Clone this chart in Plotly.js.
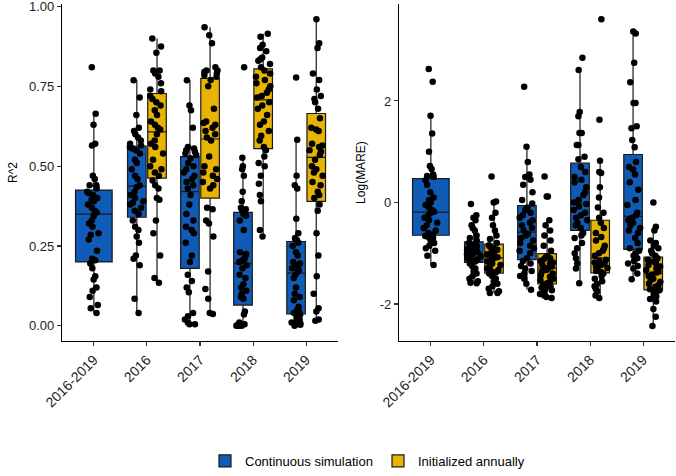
<!DOCTYPE html>
<html>
<head>
<meta charset="utf-8">
<script src="https://cdn.plot.ly/plotly-3.0.1.min.js"></script>
<style>html,body{margin:0;padding:0;background:#fff;} #chart{width:676px;height:476px;}</style>
</head>
<body>
<div id="chart"></div>
<script>
// ---------- DATA ----------
const categories = ["2016-2019", "2016", "2017", "2018", "2019"];
const years = ["2016", "2017", "2018", "2019"];
const seriesNames = ["Continuous simulation", "Initialized annually"];

// R^2 — continuous simulation
const r2ContAll = [0.81,0.664,0.63,0.57,0.565,0.47,0.46,0.44,0.44,0.43, 0.42,0.415,0.41,0.40,0.395,0.39,0.38,0.37,0.36,0.355, 0.345,0.33,0.32,0.31,0.29,0.285,0.27,0.235,0.21,0.205, 0.195,0.18,0.155,0.145,0.12,0.11,0.09,0.065,0.055,0.04];
const r2Cont2016 = [0.769,0.715,0.66,0.62,0.61,0.60,0.59,0.58,0.57,0.565, 0.56,0.555,0.55,0.54,0.52,0.51,0.49,0.47,0.46,0.44, 0.435,0.42,0.41,0.40,0.39,0.385,0.38,0.37,0.36,0.35, 0.33,0.31,0.30,0.28,0.26,0.22,0.21,0.19,0.085,0.04];
const r2Cont2017 = [0.769,0.69,0.675,0.62,0.56,0.555,0.55,0.545,0.54,0.535, 0.525,0.51,0.50,0.49,0.48,0.47,0.46,0.45,0.44,0.43, 0.41,0.38,0.35,0.33,0.31,0.30,0.29,0.26,0.22,0.20, 0.16,0.14,0.12,0.105,0.04,0.03,0.02,0.01,0.005,0.005];
const r2Cont2018 = [0.81,0.526,0.50,0.49,0.47,0.42,0.39,0.37,0.365,0.36, 0.35,0.345,0.33,0.30,0.23,0.225,0.22,0.21,0.205,0.20, 0.19,0.18,0.16,0.15,0.13,0.12,0.11,0.10,0.09,0.085, 0.045,0.035,0.01,0.005,0.003,0.002,0.001,0.0,0.0,0.0];
const r2Cont2019 = [0.778,0.583,0.47,0.44,0.43,0.335,0.29,0.275,0.27,0.268, 0.26,0.25,0.23,0.22,0.20,0.195,0.19,0.18,0.175,0.17, 0.16,0.15,0.12,0.10,0.09,0.08,0.06,0.05,0.045,0.04, 0.035,0.03,0.025,0.02,0.015,0.01,0.008,0.005,0.003,0.0];
// R^2 — initialized annually
const r2Init2016 = [0.90,0.875,0.855,0.80,0.80,0.79,0.78,0.76,0.74,0.735, 0.72,0.71,0.70,0.69,0.675,0.66,0.64,0.63,0.62,0.615, 0.60,0.58,0.57,0.56,0.54,0.52,0.50,0.49,0.48,0.47, 0.455,0.44,0.43,0.40,0.395,0.33,0.29,0.22,0.15,0.135];
const r2Init2017 = [0.935,0.91,0.885,0.81,0.80,0.80,0.795,0.79,0.785,0.78, 0.77,0.75,0.68,0.64,0.635,0.63,0.62,0.61,0.60,0.59, 0.58,0.53,0.50,0.49,0.48,0.47,0.46,0.45,0.44,0.43, 0.37,0.365,0.33,0.32,0.28,0.17,0.115,0.085,0.04,0.037];
const r2Init2018 = [0.915,0.905,0.88,0.87,0.86,0.84,0.835,0.83,0.82,0.81, 0.80,0.79,0.78,0.77,0.76,0.75,0.74,0.73,0.72,0.715, 0.70,0.69,0.68,0.66,0.64,0.63,0.61,0.595,0.58,0.56, 0.55,0.53,0.51,0.50,0.47,0.445,0.41,0.39,0.30,0.28];
const r2Init2019 = [0.96,0.885,0.87,0.79,0.77,0.74,0.72,0.71,0.70,0.68, 0.65,0.62,0.615,0.61,0.57,0.565,0.56,0.55,0.545,0.535, 0.52,0.50,0.49,0.48,0.47,0.45,0.44,0.42,0.41,0.40, 0.38,0.36,0.29,0.22,0.155,0.10,0.055,0.045,0.02,0.016];

// Log(MARE) — continuous simulation
const mareContAll = [2.63,2.38,1.71,1.36,1.0,0.72,0.66,0.55,0.52,0.50, 0.44,0.35,0.2,0.1,0.05,0.0,-0.05,-0.1,-0.15,-0.18, -0.2,-0.25,-0.3,-0.35,-0.4,-0.45,-0.5,-0.55,-0.6,-0.63, -0.66,-0.68,-0.7,-0.75,-0.8,-0.85,-0.9,-0.95,-1.05,-1.23];
const mareCont2016 = [-0.03,-0.25,-0.3,-0.35,-0.45,-0.5,-0.55,-0.65,-0.7,-0.75, -0.8,-0.82,-0.84,-0.86,-0.88,-0.9,-0.92,-0.94,-0.96,-0.97, -0.99,-1.0,-1.02,-1.04,-1.06,-1.08,-1.1,-1.12,-1.14,-1.16, -1.2,-1.25,-1.3,-1.35,-1.4,-1.45,-1.5,-1.55,-1.58,-1.59];
const mareCont2017 = [2.28,1.10,0.8,0.55,0.5,0.45,0.35,0.2,0.05,-0.02, -0.1,-0.15,-0.2,-0.25,-0.3,-0.35,-0.4,-0.45,-0.5,-0.55, -0.62,-0.65,-0.7,-0.75,-0.8,-0.85,-0.9,-0.95,-1.0,-1.1, -1.15,-1.2,-1.25,-1.3,-1.35,-1.4,-1.45,-1.5,-1.6,-1.72];
const mareCont2018 = [2.85,2.61,1.78,1.7,1.37,1.37,1.13,1.13,0.9,0.85, 0.7,0.6,0.5,0.45,0.4,0.3,0.2,0.15,0.05,0.0, -0.03,-0.08,-0.15,-0.2,-0.25,-0.3,-0.35,-0.4,-0.45,-0.5, -0.6,-0.65,-0.7,-0.8,-0.9,-1.0,-1.1,-1.2,-1.3,-1.59];
const mareCont2019 = [3.37,3.33,2.75,2.37,1.96,1.96,1.5,1.46,1.23,1.09, 0.8,0.7,0.65,0.55,0.4,0.25,0.05,-0.05,-0.2,-0.25, -0.3,-0.35,-0.4,-0.45,-0.5,-0.55,-0.6,-0.7,-0.8,-0.9, -0.95,-1.0,-1.05,-1.1,-1.15,-1.2,-1.25,-1.3,-1.4,-1.51];
// Log(MARE) — initialized annually
const mareInit2016 = [0.51,0.02,0.0,-0.2,-0.3,-0.45,-0.55,-0.65,-0.72,-0.8, -0.84,-0.87,-0.9,-0.93,-0.96,-0.99,-1.02,-1.04,-1.06,-1.08, -1.1,-1.13,-1.16,-1.2,-1.23,-1.26,-1.3,-1.33,-1.36,-1.38, -1.4,-1.45,-1.5,-1.55,-1.6,-1.65,-1.7,-1.75,-1.78,-1.78];
const mareInit2017 = [0.51,0.12,0.12,-0.35,-0.45,-0.55,-0.65,-0.75,-0.85,-0.95, -1.06,-1.08,-1.1,-1.12,-1.15,-1.18,-1.2,-1.23,-1.26,-1.28, -1.3,-1.33,-1.36,-1.4,-1.43,-1.46,-1.5,-1.53,-1.56,-1.59, -1.62,-1.65,-1.68,-1.7,-1.73,-1.76,-1.8,-1.83,-1.86,-1.88];
const mareInit2018 = [3.61,1.63,0.82,0.6,0.58,0.3,0.1,-0.1,-0.2,-0.3, -0.4,-0.5,-0.6,-0.68,-0.75,-0.85,-0.9,-0.95,-1.0,-1.05, -1.13,-1.15,-1.18,-1.2,-1.23,-1.26,-1.29,-1.32,-1.35,-1.37, -1.4,-1.45,-1.5,-1.55,-1.6,-1.65,-1.7,-1.75,-1.83,-1.88];
const mareInit2019 = [0.0,-0.48,-0.55,-0.75,-0.8,-0.85,-0.9,-0.95,-1.0,-1.05, -1.1,-1.13,-1.16,-1.2,-1.23,-1.26,-1.3,-1.33,-1.36,-1.38, -1.42,-1.45,-1.5,-1.53,-1.56,-1.6,-1.63,-1.66,-1.69,-1.71, -1.73,-1.76,-1.8,-1.85,-1.88,-1.9,-1.95,-2.1,-2.25,-2.43];

const r2TickVals = [0, 0.25, 0.5, 0.75, 1];
const mareTickVals = [-2, 0, 2];

// ---------- STYLE ----------
const BLUE = "#0F5BB5";
const GOLD = "#E8B404";
const FONT = "Liberation Sans, Arial, Helvetica, sans-serif";
const DODGE = 0.19, NARROW = 0.35, WIDE = 0.69;

function boxTrace(cats, valueLists, offset, width, jitter, color, name, xa, ya, showlegend) {
  const x = [], y = [];
  cats.forEach((c, k) => {
    const idx = categories.indexOf(c);
    valueLists[k].forEach(v => { x.push(idx + offset); y.push(v); });
  });
  return {
    type: "box", x: x, y: y, xaxis: xa, yaxis: ya,
    name: name, legendgroup: name, showlegend: showlegend,
    width: width, fillcolor: color, whiskerwidth: 0,
    line: {color: "#1a1a1a", width: 1.2},
    boxpoints: "all", jitter: jitter, pointpos: 0,
    marker: {color: "#000000", size: 6.5, opacity: 1, line: {width: 0}},
    hoverinfo: "y"
  };
}

const data = [
  boxTrace(["2016-2019"], [r2ContAll], 0, WIDE, 0.42, BLUE, seriesNames[0], "x", "y", false),
  boxTrace(years, [r2Cont2016, r2Cont2017, r2Cont2018, r2Cont2019], -DODGE, NARROW, 0.85, BLUE, seriesNames[0], "x", "y", true),
  boxTrace(years, [r2Init2016, r2Init2017, r2Init2018, r2Init2019], DODGE, NARROW, 0.85, GOLD, seriesNames[1], "x", "y", true),
  boxTrace(["2016-2019"], [mareContAll], 0, WIDE, 0.42, BLUE, seriesNames[0], "x2", "y2", false),
  boxTrace(years, [mareCont2016, mareCont2017, mareCont2018, mareCont2019], -DODGE, NARROW, 0.85, BLUE, seriesNames[0], "x2", "y2", false),
  boxTrace(years, [mareInit2016, mareInit2017, mareInit2018, mareInit2019], DODGE, NARROW, 0.85, GOLD, seriesNames[1], "x2", "y2", false)
];

const W = 676, H = 476;
const yDom = [1 - 344 / H, 1 - 4 / H];
const axisCommon = {
  showgrid: false, zeroline: false, showline: true, linecolor: "#000", linewidth: 1.1,
  ticks: "outside", ticklen: 4, tickwidth: 1.1, tickcolor: "#333",
  ticklabeloverflow: "allow",
  tickfont: {family: FONT, size: 14, color: "#222"}
};
const xCommon = Object.assign({}, axisCommon, {
  range: [-0.6, 4.6], tickmode: "array",
  tickvals: categories.map((c, i) => i), ticktext: categories, tickangle: -45
});
const yFont = {family: FONT, size: 13, color: "#222"};

const layout = {
  width: W, height: H,
  margin: {l: 0, r: 0, t: 0, b: 0},
  paper_bgcolor: "#fff", plot_bgcolor: "#fff",
  boxmode: "overlay",
  font: {family: FONT, color: "#000"},
  xaxis: Object.assign({}, xCommon, {domain: [62 / W, 338 / W], anchor: "y"}),
  xaxis2: Object.assign({}, xCommon, {domain: [399 / W, 675 / W], anchor: "y2"}),
  yaxis: Object.assign({}, axisCommon, {
    domain: yDom, anchor: "x", range: [-0.048, 1.008], tickfont: yFont,
    tickmode: "array", tickvals: r2TickVals, ticktext: r2TickVals.map(v => v.toFixed(2)),
    title: {text: "R^2", font: {family: FONT, size: 12, color: "#000"}, standoff: 8}
  }),
  yaxis2: Object.assign({}, axisCommon, {
    domain: yDom, anchor: "x2", range: [-2.73, 3.91], tickfont: yFont,
    tickmode: "array", tickvals: mareTickVals, ticktext: mareTickVals.map(String),
    title: {text: "Log(MARE)", font: {family: FONT, size: 12, color: "#000"}, standoff: 11}
  }),
  legend: {
    orientation: "h", x: 378 / W, xanchor: "center", y: 1 - 465 / H, yanchor: "middle",
    font: {family: FONT, size: 13, color: "#000"}, itemwidth: 30, tracegroupgap: 0,
    entrywidth: 128, entrywidthmode: "pixels"
  },
  showlegend: true
};

Plotly.newPlot("chart", data, layout, {staticPlot: true, displayModeBar: false});
</script>
</body>
</html>
